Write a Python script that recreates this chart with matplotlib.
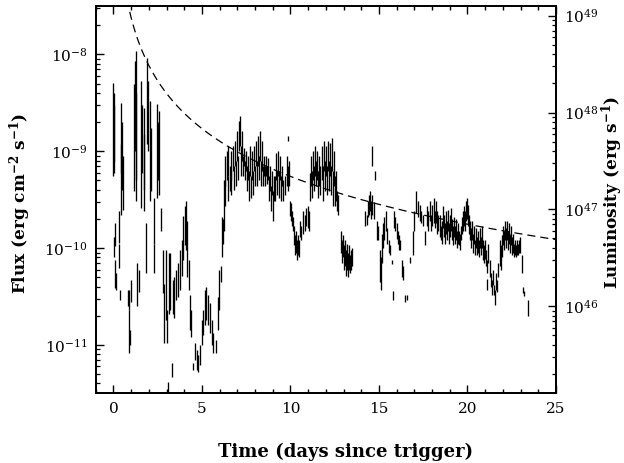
import matplotlib
matplotlib.use("Agg")
import matplotlib.pyplot as plt
from matplotlib.ticker import MultipleLocator, LogLocator, NullFormatter
import numpy as np

# ---------------- data (flux in units of 1e-11 erg cm^-2 s^-1) ----------------
t_days = [
    0.00, 0.02, 0.04, 0.06, 0.08, 0.10, 0.12, 0.30, 0.34, 0.36,
    0.42, 0.45, 0.48, 0.52, 0.80, 0.86, 0.90, 0.93, 1.02, 1.18,
    1.22, 1.27, 1.30, 1.35, 1.45, 1.58, 1.62, 1.72, 1.75, 1.82,
    1.90, 1.98, 2.05, 2.12, 2.27, 2.32, 2.48, 2.52, 2.60, 2.68,
    2.78, 2.88, 2.95, 3.00, 3.06, 3.15, 3.22, 3.30, 3.35, 3.45,
    3.55, 3.65, 3.75, 3.85, 3.95, 4.02, 4.08, 4.15, 4.25, 4.32,
    4.40, 4.48, 4.62, 4.72, 4.80, 4.88, 4.98, 5.08, 5.18, 5.25,
    5.35, 5.45, 5.55, 5.62, 5.78, 5.88, 5.98, 6.05, 6.12, 6.18,
    6.25,
    6.28, 6.33, 6.39, 6.45, 6.50, 6.56, 6.62, 6.67, 6.73, 6.79,
    6.84, 6.90, 6.96, 7.01, 7.07, 7.13, 7.18, 7.24, 7.30, 7.35,
    7.41, 7.47, 7.52, 7.58, 7.64, 7.69, 7.75, 7.81, 7.86, 7.92,
    7.98, 8.03, 8.09, 8.14, 8.20, 8.26, 8.31, 8.37, 8.43, 8.48,
    8.54, 8.60, 8.65, 8.71, 8.77, 8.82, 8.88, 8.94, 8.99, 9.05,
    9.11, 9.16, 9.22, 9.28, 9.33, 9.39, 9.45, 9.50, 9.56, 9.67,
    9.79, 9.84, 9.86, 9.90, 9.95, 10.01, 10.07, 10.12, 10.18, 10.24,
    10.29, 10.35, 10.41, 10.46, 10.52, 10.58, 10.69, 10.80, 10.86, 10.97,
    11.03, 11.09, 11.14, 11.20, 11.26, 11.31, 11.37, 11.43, 11.48, 11.54,
    11.60, 11.65, 11.76, 11.82, 11.88, 11.93, 11.99, 12.05, 12.10, 12.16,
    12.22, 12.27, 12.33, 12.39, 12.44, 12.50, 12.56, 12.61, 12.67,
    12.84, 12.90, 12.95, 13.01, 13.07, 13.12, 13.18, 13.24, 13.29, 13.35,
    13.41, 13.46,
    14.20, 14.31, 14.37, 14.42, 14.48, 14.54, 14.59, 14.62, 14.71, 14.76,
    14.88, 14.93, 15.05, 15.10, 15.16, 15.22, 15.27, 15.38, 15.44, 15.55,
    15.61, 15.72, 15.78, 15.84, 15.89, 16.00, 16.06, 16.12, 16.18, 16.29,
    16.35, 16.46, 16.57, 16.74, 16.91, 16.97, 17.08, 17.19, 17.31, 17.36,
    17.48, 17.59, 17.70, 17.76, 17.87, 17.93, 17.99, 18.10, 18.16, 18.21,
    18.27, 18.33,
    18.44, 18.50, 18.55, 18.61, 18.67, 18.72, 18.78, 18.84, 18.89, 18.95,
    19.00, 19.06, 19.12, 19.17, 19.23, 19.29, 19.34, 19.40, 19.46, 19.51,
    19.57, 19.63, 19.68, 19.74, 19.80, 19.85, 19.91, 19.97, 20.02, 20.08,
    20.14, 20.19, 20.25, 20.31, 20.36, 20.42, 20.48, 20.53, 20.59, 20.64,
    20.70, 20.76, 20.81, 20.87, 20.93, 20.98, 21.04, 21.10, 21.12, 21.15,
    21.27, 21.33, 21.38, 21.44, 21.49, 21.55, 21.61, 21.66, 21.72, 21.83,
    21.89, 21.95, 22.00, 22.06, 22.12, 22.17, 22.23, 22.29, 22.34, 22.40,
    22.45, 22.51, 22.57, 22.62, 22.68, 22.74, 22.79, 22.85, 22.91, 22.96,
    23.08, 23.16, 23.22, 23.42,
]

flux_lo = [
    56, 80, 60, 8, 10.6, 3.9, 3.7, 11.2, 6.3, 2.9,
    60, 22, 40, 25, 2.5, 2.3, 0.83, 1.0, 2.8, 39,
    100, 31, 50, 2.5, 3.5, 26, 60, 24, 40, 5.5,
    119, 100, 31, 39, 11, 5.5, 33, 50, 35, 15,
    3.4, 1.05, 1.8, 1.05, 0.32, 2.1, 2.3, 0.47, 2.1, 1.9,
    2.9, 3.1, 3.7, 5.2, 7.5, 10.7, 9.5, 5.0, 3.7, 1.43,
    1.2, 0.55, 0.7, 0.55, 0.53, 0.62, 1.0, 1.27, 1.6, 1.8,
    1.6, 1.33, 1.0, 0.83, 0.83, 1.43, 2.3, 4.5, 8, 11,
    15,
    44, 27, 50, 31, 56, 39, 50, 35, 63, 40,
    71, 44, 80, 50, 101, 114, 56, 80, 56, 71,
    50, 63, 39, 50, 31, 56, 33, 50, 35, 63,
    44, 71, 44, 71, 50, 80, 44, 63, 44, 56,
    44, 56, 46, 50, 31, 39, 24, 35, 19, 31,
    31, 50, 35, 56, 33, 50, 31, 44, 31, 35,
    44, 39, 128, 44, 21.7, 19, 17, 15, 10.7, 8.4,
    9, 7.5, 8.4, 8, 13, 12, 14, 15, 17, 16,
    15, 31, 44, 33, 50, 39, 56, 44, 50, 33,
    44, 35, 50, 31, 63, 39, 56, 35, 63, 39,
    56, 35, 63, 27, 44, 27, 31, 24.4, 22,
    9, 7, 8, 6, 6.6, 5.2, 6, 5, 6, 5.5,
    6, 6.6,
    17, 17.5, 21, 22, 24, 20, 22, 71, 20, 50,
    12, 12, 4.5, 3.7, 7, 10, 12, 15, 11, 9,
    8.4, 6.8, 2.9, 16, 15, 12.5, 11, 9.5, 9.5, 5,
    4.7, 2.8, 2.9, 7, 8.4, 15, 23, 21, 19, 18,
    17, 10.7, 17, 15, 19, 15, 17, 18, 16, 18,
    14, 15,
    13, 12, 11, 16, 13, 11, 14, 12, 15, 11,
    13, 15, 12, 10.7, 13, 11, 12, 10, 11, 10.7,
    9.5, 12, 14, 15, 17, 15, 19, 20, 17, 14,
    12, 10, 12, 9, 11, 8.4, 10, 8.5, 9, 8,
    10, 8.4, 10, 7.5, 7, 7.8, 6.6, 5.5, 3.67, 7,
    5, 4, 3.3, 4.2, 3.3, 2.6, 3.7, 3.5, 5, 6.6,
    6, 8, 10.7, 9.5, 12, 10, 12, 9.5, 11, 9,
    10.7, 8.4, 9, 8, 8.4, 8, 8.4, 8.4, 9, 9,
    5.5, 3.4, 3.2, 2.0,
]

flux_hi = [
    505, 400, 300, 13, 18, 7.5, 5.5, 24, 11.1, 3.7,
    314, 120, 200, 90, 3.7, 3.7, 2.3, 1.43, 4.7, 500,
    849, 1076, 400, 7.0, 6.0, 528, 300, 280, 150, 18,
    912, 528, 330, 174, 33, 11, 307, 200, 260, 26,
    9.5, 4.3, 9.5, 2.3, 0.41, 9.0, 8.8, 0.65, 4.7, 5.0,
    5.9, 7.0, 9.5, 12, 21.7, 27, 31, 19, 7.5, 3.3,
    2.3, 0.65, 1.05, 0.89, 0.79, 1.0, 1.8, 2.3, 3.7, 3.95,
    3.3, 2.7, 1.8, 1.33, 1.12, 3.1, 5.9, 6.5, 21, 20,
    50,
    90, 50, 101, 56, 114, 71, 101, 63, 114, 71,
    128, 80, 162, 90, 205, 232, 114, 162, 90, 108,
    80, 101, 71, 90, 63, 114, 56, 101, 63, 114,
    71, 128, 80, 144, 90, 162, 80, 128, 71, 90,
    71, 90, 71, 85, 56, 71, 44, 63, 39, 56,
    56, 95, 63, 101, 63, 90, 56, 71, 50, 56,
    90, 71, 144, 80, 31, 29, 24, 21, 17, 13.5,
    15, 12, 13.5, 12, 19, 17, 24, 22, 26, 27,
    24, 60, 90, 63, 101, 71, 114, 80, 101, 63,
    90, 71, 114, 71, 128, 80, 114, 71, 128, 80,
    122, 71, 137, 63, 101, 56, 63, 39, 35,
    15, 12, 13.5, 10.7, 12, 9.5, 11, 9, 10.7, 8.4,
    9.5, 10,
    24, 22, 31, 35, 39, 31, 35, 114, 30, 63,
    19, 17, 9.5, 8, 14, 18, 21, 24, 16, 12,
    10.7, 7.5, 3.6, 24, 21, 18, 15, 13.5, 12, 7.5,
    6.5, 3.3, 3.3, 8, 15, 24, 39, 31, 28, 24,
    22, 15, 27, 24, 31, 22, 28, 33, 24, 31,
    24, 22,
    22, 17, 19, 27, 22, 18, 24, 19, 25, 18,
    22, 26, 20, 17, 21, 17, 20, 15, 18, 15,
    14, 17, 21, 24, 27, 24, 31, 33, 28, 22,
    19, 16, 19, 14, 17, 12, 16, 13, 15, 12,
    16, 13, 17, 12, 10.7, 12, 9.5, 7.5, 4.8, 11,
    7.5, 5.5, 4.7, 6, 4.2, 3.7, 5.5, 4.7, 7, 12,
    10.7, 13.5, 17, 15, 19, 16, 19, 15, 18, 14,
    17, 13, 14, 11, 12, 10.7, 12, 11, 12, 13,
    8.4, 4.0, 3.6, 2.9,
]

flux_unit = 1e-11
# power-law decline shown as dashed curve: F = norm * t^(-index)
model_norm = 2.4e-8
model_index = 1.64
# conversion flux -> luminosity (log10 of factor)
log_lum_factor = 56.6

x_ticks = [0, 5, 10, 15, 20, 25]
x_label = "Time (days since trigger)"
y_label = r"Flux (erg cm$^{\mathbf{-2}}$ s$^{\mathbf{-1}}$)"
y2_label = r"Luminosity (erg s$^{\mathbf{-1}}$)"

# ---------------- figure ----------------
plt.rcParams["font.family"] = ["DejaVu Serif"]
plt.rcParams["mathtext.fontset"] = "dejavuserif"

fig = plt.figure(figsize=(6.24, 4.63), dpi=100)
ax = fig.add_axes([0.1534, 0.1505, 0.7376, 0.8365])

t = np.array(t_days)
lo = np.array(flux_lo) * flux_unit
hi = np.array(flux_hi) * flux_unit
ax.vlines(t, lo, hi, color="black", lw=0.95)

tm = np.linspace(0.5, 25, 400)
ax.plot(tm, model_norm * tm ** (-model_index), color="black", lw=0.9,
        dashes=(6.5, 4.0))

ax.set_yscale("log")
ax.set_xlim(-1, 25)
ylo, yhi = 10 ** -11.5, 10 ** -7.5
ax.set_ylim(ylo, yhi)
ax.set_xticks(x_ticks)
ax.xaxis.set_minor_locator(MultipleLocator(1))
ax.yaxis.set_minor_locator(LogLocator(base=10, subs=np.arange(2, 10)))
ax.yaxis.set_minor_formatter(NullFormatter())

for s in ax.spines.values():
    s.set_linewidth(1.3)

ax.tick_params(axis="both", which="both", direction="in", top=True,
               right=False, labelsize=11)
ax.tick_params(axis="x", which="major", length=6, width=1, pad=6)
ax.tick_params(axis="x", which="minor", length=3, width=1)
ax.tick_params(axis="y", which="major", length=5.5, width=1, pad=6)
ax.tick_params(axis="y", which="minor", length=2.7, width=0.9)

ax2 = ax.twinx()
ax2.set_yscale("log")
fac = 10 ** log_lum_factor
ax2.set_ylim(ylo * fac, yhi * fac)
ax2.yaxis.set_minor_locator(LogLocator(base=10, subs=np.arange(2, 10)))
ax2.yaxis.set_minor_formatter(NullFormatter())
ax2.tick_params(axis="y", which="both", direction="in", labelsize=11)
ax2.tick_params(axis="y", which="major", length=5.5, width=1, pad=6)
ax2.tick_params(axis="y", which="minor", length=2.7, width=0.9)
for s in ax2.spines.values():
    s.set_linewidth(1.3)

ax.set_xlabel(x_label, fontsize=13, fontweight="bold", va="top")
ax.xaxis.set_label_coords(0.543, -0.127)
ax.set_ylabel(y_label, fontsize=12.2, fontweight="bold", rotation=90,
              va="center")
ax.yaxis.set_label_coords(-0.165, 0.49)
ax2.set_ylabel(y2_label, fontsize=12.2, fontweight="bold", rotation=90,
               va="center")
ax2.yaxis.set_label_coords(1.121, 0.52)

fig.savefig("out.png", dpi=100)
